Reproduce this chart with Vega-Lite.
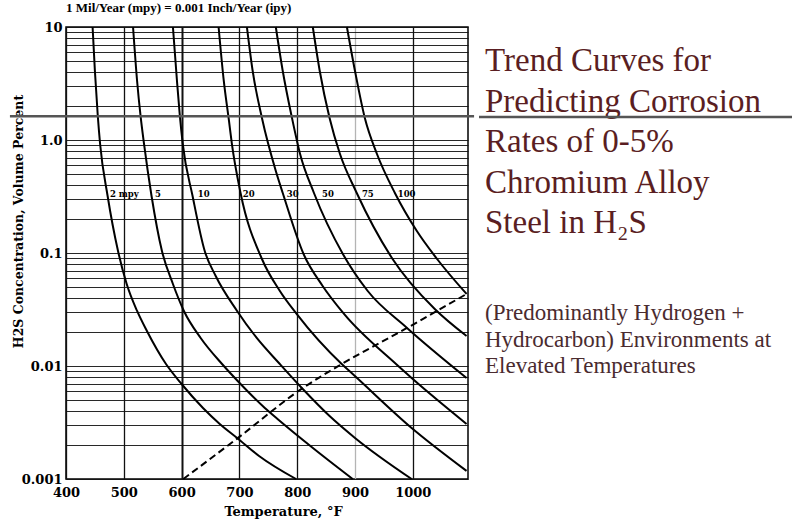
{
  "$schema": "https://vega.github.io/schema/vega-lite/v6.json",
  "padding": {"left": 7, "top": 1, "right": 0, "bottom": 0},
  "background": "white",
  "config": {
    "font": "Liberation Serif",
    "view": {"stroke": "black", "strokeWidth": 1.5}
  },
  "datasets": {
    "curves": [
      {"rate": "2", "temp": 446, "conc": 10}, {"rate": "2", "temp": 450, "conc": 4.08}, {"rate": "2", "temp": 455, "conc": 1.632}, {"rate": "2", "temp": 459, "conc": 0.922}, {"rate": "2", "temp": 472, "conc": 0.3195}, {"rate": "2", "temp": 490, "conc": 0.1041}, {"rate": "2", "temp": 505, "conc": 0.0532}, {"rate": "2", "temp": 523, "conc": 0.0307}, {"rate": "2", "temp": 540, "conc": 0.0204}, {"rate": "2", "temp": 573, "conc": 0.01041}, {"rate": "2", "temp": 600, "conc": 0.00693}, {"rate": "2", "temp": 637, "conc": 0.00425}, {"rate": "2", "temp": 666, "conc": 0.00307}, {"rate": "2", "temp": 696, "conc": 0.00231}, {"rate": "2", "temp": 734, "conc": 0.0016}, {"rate": "2", "temp": 798, "conc": 0.001},
      {"rate": "5", "temp": 516, "conc": 10}, {"rate": "5", "temp": 523, "conc": 3.33}, {"rate": "5", "temp": 529, "conc": 1.632}, {"rate": "5", "temp": 535, "conc": 0.922}, {"rate": "5", "temp": 548, "conc": 0.3195}, {"rate": "5", "temp": 566, "conc": 0.1041}, {"rate": "5", "temp": 585, "conc": 0.0532}, {"rate": "5", "temp": 604, "conc": 0.0307}, {"rate": "5", "temp": 633, "conc": 0.0177}, {"rate": "5", "temp": 670, "conc": 0.01041}, {"rate": "5", "temp": 702, "conc": 0.00693}, {"rate": "5", "temp": 744, "conc": 0.00425}, {"rate": "5", "temp": 768, "conc": 0.00333}, {"rate": "5", "temp": 825, "conc": 0.00192}, {"rate": "5", "temp": 896, "conc": 0.001},
      {"rate": "10", "temp": 585, "conc": 10}, {"rate": "10", "temp": 592, "conc": 3.33}, {"rate": "10", "temp": 597, "conc": 1.632}, {"rate": "10", "temp": 602, "conc": 0.922}, {"rate": "10", "temp": 619, "conc": 0.3195}, {"rate": "10", "temp": 640, "conc": 0.1041}, {"rate": "10", "temp": 659, "conc": 0.0626}, {"rate": "10", "temp": 696, "conc": 0.0307}, {"rate": "10", "temp": 730, "conc": 0.0177}, {"rate": "10", "temp": 770, "conc": 0.01041}, {"rate": "10", "temp": 808, "conc": 0.00639}, {"rate": "10", "temp": 856, "conc": 0.00361}, {"rate": "10", "temp": 900, "conc": 0.00231}, {"rate": "10", "temp": 998, "conc": 0.001},
      {"rate": "20", "temp": 664, "conc": 10}, {"rate": "20", "temp": 673, "conc": 3.33}, {"rate": "20", "temp": 682, "conc": 1.473}, {"rate": "20", "temp": 687, "conc": 0.922}, {"rate": "20", "temp": 702, "conc": 0.3396}, {"rate": "20", "temp": 739, "conc": 0.0885}, {"rate": "20", "temp": 770, "conc": 0.0461}, {"rate": "20", "temp": 799, "conc": 0.0289}, {"rate": "20", "temp": 877, "conc": 0.01041}, {"rate": "20", "temp": 896, "conc": 0.0085}, {"rate": "20", "temp": 998, "conc": 0.00283}, {"rate": "20", "temp": 1093, "conc": 0.00118},
      {"rate": "30", "temp": 713, "conc": 10}, {"rate": "30", "temp": 723, "conc": 4.08}, {"rate": "30", "temp": 739, "conc": 1.565}, {"rate": "30", "temp": 763, "conc": 0.5317}, {"rate": "30", "temp": 775, "conc": 0.3396}, {"rate": "30", "temp": 811, "conc": 0.098}, {"rate": "30", "temp": 844, "conc": 0.0511}, {"rate": "30", "temp": 881, "conc": 0.0289}, {"rate": "30", "temp": 971, "conc": 0.01041}, {"rate": "30", "temp": 998, "conc": 0.00783}, {"rate": "30", "temp": 1093, "conc": 0.00307},
      {"rate": "50", "temp": 763, "conc": 10}, {"rate": "50", "temp": 775, "conc": 4.08}, {"rate": "50", "temp": 791, "conc": 1.565}, {"rate": "50", "temp": 805, "conc": 0.7516}, {"rate": "50", "temp": 829, "conc": 0.3396}, {"rate": "50", "temp": 879, "conc": 0.098}, {"rate": "50", "temp": 922, "conc": 0.0461}, {"rate": "50", "temp": 990, "conc": 0.0217}, {"rate": "50", "temp": 1093, "conc": 0.00783},
      {"rate": "75", "temp": 827, "conc": 10}, {"rate": "75", "temp": 839, "conc": 4.08}, {"rate": "75", "temp": 856, "conc": 1.565}, {"rate": "75", "temp": 874, "conc": 0.7516}, {"rate": "75", "temp": 903, "conc": 0.3396}, {"rate": "75", "temp": 965, "conc": 0.0885}, {"rate": "75", "temp": 1038, "conc": 0.0319}, {"rate": "75", "temp": 1093, "conc": 0.0184},
      {"rate": "100", "temp": 886, "conc": 10}, {"rate": "100", "temp": 900, "conc": 4.08}, {"rate": "100", "temp": 917, "conc": 1.565}, {"rate": "100", "temp": 938, "conc": 0.7516}, {"rate": "100", "temp": 969, "conc": 0.3396}, {"rate": "100", "temp": 1007, "conc": 0.1565}, {"rate": "100", "temp": 1042, "conc": 0.0885}, {"rate": "100", "temp": 1093, "conc": 0.0434}
    ],
    "dashed": [
      {"temp": 603, "conc": 0.001}, {"temp": 697, "conc": 0.0023}, {"temp": 808, "conc": 0.0063}, {"temp": 877, "conc": 0.0104}, {"temp": 990, "conc": 0.0217}, {"temp": 1093, "conc": 0.0434}
    ],
    "labels": [
      {"label": "2 mpy", "temp": 476, "conc": 0.33}, {"label": "5", "temp": 554, "conc": 0.33}, {"label": "10", "temp": 628, "conc": 0.33}, {"label": "20", "temp": 706, "conc": 0.33}, {"label": "30", "temp": 782, "conc": 0.33}, {"label": "50", "temp": 843, "conc": 0.33}, {"label": "75", "temp": 912, "conc": 0.33}, {"label": "100", "temp": 974, "conc": 0.33}
    ],
    "separator": [
      {"conc": 1.62}
    ],
    "titleLines": [
      {"line": 1, "text": "Trend Curves for"},
      {"line": 2, "text": "Predicting Corrosion"},
      {"line": 3, "text": "Rates of 0-5%"},
      {"line": 4, "text": "Chromium Alloy"},
      {"line": 5, "text": "Steel in H₂S"}
    ],
    "subLines": [
      {"line": 1, "text": "(Predominantly Hydrogen +"},
      {"line": 2, "text": "Hydrocarbon) Environments at"},
      {"line": 3, "text": "Elevated Temperatures"}
    ]
  },
  "hconcat": [
    {
      "width": 402,
      "height": 452,
      "title": {"text": "1 Mil/Year (mpy) = 0.001 Inch/Year (ipy)", "anchor": "start", "frame": "group", "fontSize": 13, "font": "Liberation Serif", "fontWeight": "bold", "color": "black", "offset": 6},
      "layer": [
        {
          "data": {"name": "curves"},
          "mark": {"type": "line", "color": "black", "strokeWidth": 2, "interpolate": "monotone"},
          "encoding": {
            "x": {
              "field": "temp", "type": "quantitative",
              "scale": {"domain": [400, 1095.5], "nice": false, "zero": false},
              "axis": {
                "values": [400, 500, 600, 700, 800, 900, 1000],
                "format": "d",
                "title": "Temperature, °F",
                "titleX": 217,
                "labelFont": "DejaVu Serif", "labelFontWeight": "bold", "labelFontSize": 13, "labelColor": "black",
                "titleFont": "DejaVu Serif", "titleFontWeight": "bold", "titleFontSize": 13, "titleColor": "black",
                "ticks": false, "labelPadding": 7, "titlePadding": 6, "domain": false,
                "labelFlush": false, "labelOverlap": false,
                "grid": true,
                "gridColor": {"condition": {"test": "datum.value == 900", "value": "#b4b4b4"}, "value": "#111111"},
                "gridWidth": {"condition": {"test": "datum.value == 600", "value": 2}, "value": 1.3},
                "gridOpacity": 1
              }
            },
            "y": {
              "field": "conc", "type": "quantitative",
              "scale": {"type": "log", "domain": [0.001, 10], "nice": false},
              "axis": {
                "values": [0.001, 0.002, 0.003, 0.004, 0.005, 0.006, 0.007, 0.008, 0.009, 0.01, 0.02, 0.03, 0.04, 0.05, 0.06, 0.07, 0.08, 0.09, 0.1, 0.2, 0.3, 0.4, 0.5, 0.6, 0.7, 0.8, 0.9, 1, 2, 3, 4, 5, 6, 7, 8, 9, 10],
                "labelExpr": "datum.value == 10 ? '10' : datum.value == 1 ? '1.0' : datum.value == 0.1 ? '0.1' : datum.value == 0.01 ? '0.01' : datum.value == 0.001 ? '0.001' : ''",
                "title": "H2S Concentration, Volume Percent",
                "titleX": -41, "titleY": 194,
                "labelFont": "DejaVu Serif", "labelFontWeight": "bold", "labelFontSize": 13, "labelColor": "black",
                "titleFont": "DejaVu Serif", "titleFontWeight": "bold", "titleFontSize": 12.5, "titleColor": "black",
                "ticks": false, "labelPadding": 4, "domain": false, "labelOverlap": false, "labelFlush": false,
                "grid": true, "gridColor": "#111111", "gridWidth": 1.2, "gridOpacity": 0.9
              }
            },
            "detail": {"field": "rate"}
          }
        },
        {
          "mark": {"type": "rule", "color": "#c0504d", "strokeWidth": 3, "opacity": 0.8},
          "encoding": {"x": {"datum": 442}}
        },
        {
          "data": {"name": "dashed"},
          "mark": {"type": "line", "color": "black", "strokeWidth": 2, "strokeDash": [7, 4], "interpolate": "monotone"},
          "encoding": {
            "x": {"field": "temp", "type": "quantitative"},
            "y": {"field": "conc", "type": "quantitative"}
          }
        },
        {
          "data": {"name": "labels"},
          "mark": {"type": "text", "align": "left", "baseline": "middle", "font": "DejaVu Serif", "fontWeight": "bold", "fontSize": 8.5, "color": "black"},
          "encoding": {
            "x": {"field": "temp", "type": "quantitative"},
            "y": {"field": "conc", "type": "quantitative"},
            "text": {"field": "label"}
          }
        },
        {
          "data": {"name": "separator"},
          "mark": {"type": "rule", "color": "#555555", "strokeWidth": 2.5},
          "encoding": {
            "x": {"datum": 303},
            "x2": {"datum": 1106},
            "y": {"field": "conc", "type": "quantitative"}
          }
        }
      ]
    },
    {
      "spacing": 42,
      "vconcat": [
        {
          "width": 320,
          "height": 230.5,
          "view": {"stroke": null},
          "layer": [
            {
              "data": {"name": "titleLines"},
              "mark": {"type": "text", "align": "left", "baseline": "middle", "dx": 6, "font": "Liberation Serif", "fontSize": 33, "color": "#5a1e22"},
              "encoding": {
                "x": {"value": 0},
                "y": {"field": "line", "type": "ordinal", "scale": {"type": "band", "domain": [1, 2, 3, 4, 5], "paddingInner": 0, "paddingOuter": 0.3457}, "axis": null},
                "text": {"field": "text"}
              }
            },
            {
              "data": {"values": [{"line": 2}]},
              "mark": {"type": "rule", "color": "#555555", "strokeWidth": 2.5},
              "encoding": {
                "y": {"field": "line", "type": "ordinal", "bandPosition": 0.877, "axis": null}
              }
            }
          ]
        },
        {
          "width": 320,
          "height": 79.5,
          "view": {"stroke": null},
          "data": {"name": "subLines"},
          "mark": {"type": "text", "align": "left", "baseline": "middle", "dx": 6, "font": "Liberation Serif", "fontSize": 23, "color": "#4a2b2f"},
          "encoding": {
            "x": {"value": 0},
            "y": {"field": "line", "type": "ordinal", "scale": {"type": "band", "paddingInner": 0, "paddingOuter": 0}, "axis": null},
            "text": {"field": "text"}
          }
        }
      ]
    }
  ],
  "spacing": 0
}
